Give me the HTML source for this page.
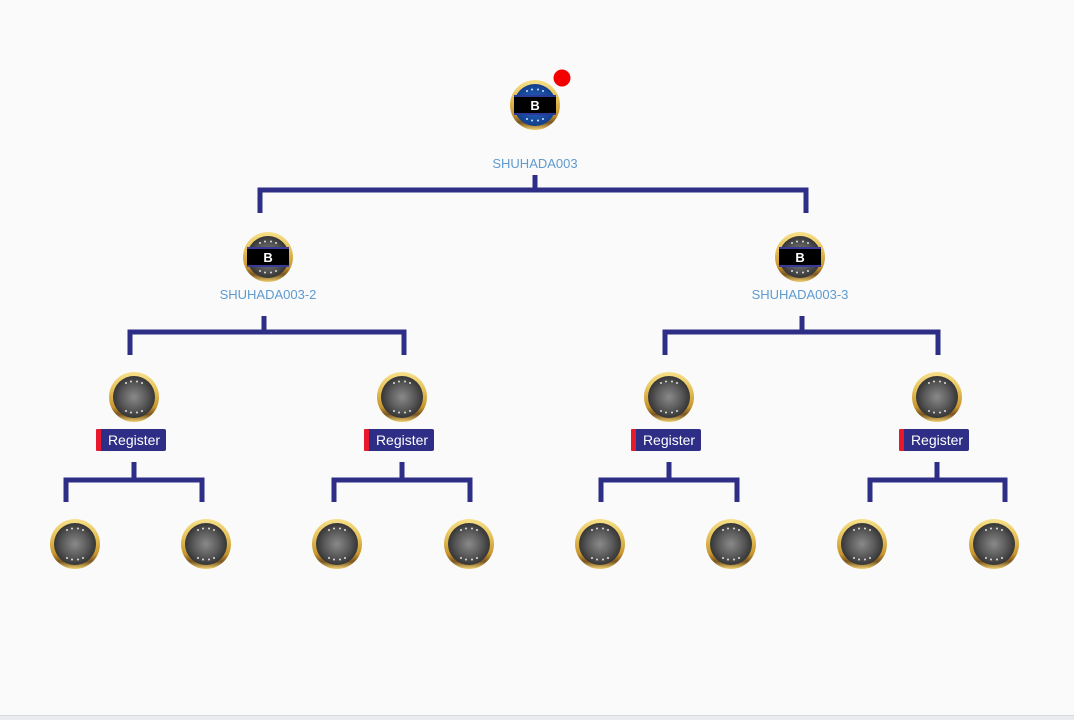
<!DOCTYPE html>
<html><head><meta charset="utf-8"><style>
html,body{margin:0;padding:0;background:#fafafa;}
svg{display:block;}
text{font-family:"Liberation Sans",sans-serif;}
</style></head><body>
<svg width="1074" height="720" viewBox="0 0 1074 720" xmlns="http://www.w3.org/2000/svg">
<defs>
<linearGradient id="gold" x1="0" y1="0" x2="0" y2="1">
<stop offset="0" stop-color="#f7e08a"/><stop offset="0.35" stop-color="#e6c15a"/><stop offset="0.7" stop-color="#c8952e"/><stop offset="0.85" stop-color="#7a5520"/><stop offset="1" stop-color="#f0d070"/>
</linearGradient>
<radialGradient id="steel" cx="0.5" cy="0.5" r="0.5">
<stop offset="0" stop-color="#8a8a8a"/><stop offset="0.6" stop-color="#5a5a5a"/><stop offset="1" stop-color="#353535"/>
</radialGradient>
<radialGradient id="blue" cx="0.5" cy="0.5" r="0.5">
<stop offset="0" stop-color="#2a6ad0"/><stop offset="1" stop-color="#123f8a"/>
</radialGradient>
<g id="plain">
<circle r="25" fill="url(#gold)"/>
<circle r="21" fill="url(#steel)"/>
<g fill="#ddd">
<circle cx="-8" cy="-14" r="1"/><circle cx="-3" cy="-15.5" r="1"/><circle cx="3" cy="-15.5" r="1"/><circle cx="8" cy="-14" r="1"/>
<circle cx="-8" cy="14" r="1"/><circle cx="-3" cy="15.5" r="1"/><circle cx="3" cy="15.5" r="1"/><circle cx="8" cy="14" r="1"/>
</g>
</g>
<g id="bgray">
<use href="#plain"/>
<rect x="-21" y="-10" width="42" height="20" fill="#3b3b9a"/>
<rect x="-21" y="-8" width="42" height="16" fill="#000"/>
<text x="0" y="5" text-anchor="middle" font-size="13" font-weight="bold" fill="#fff">B</text>
</g>
<g id="bblue">
<circle r="25" fill="url(#gold)"/>
<circle r="21" fill="url(#blue)"/>
<g fill="#cfe0ff">
<circle cx="-8" cy="-14" r="1"/><circle cx="-3" cy="-15.5" r="1"/><circle cx="3" cy="-15.5" r="1"/><circle cx="8" cy="-14" r="1"/>
<circle cx="-8" cy="14" r="1"/><circle cx="-3" cy="15.5" r="1"/><circle cx="3" cy="15.5" r="1"/><circle cx="8" cy="14" r="1"/>
</g>
<rect x="-21" y="-10" width="42" height="20" fill="#2a3a9a"/>
<rect x="-21" y="-8" width="42" height="16" fill="#000"/>
<text x="0" y="5" text-anchor="middle" font-size="13" font-weight="bold" fill="#fff">B</text>
</g>
<g id="reg">
<rect x="-38" y="-11" width="70" height="22" rx="2" fill="#2e2e86"/>
<rect x="-38" y="-11" width="5" height="22" rx="1" fill="#e8192c"/>
<text x="0" y="5" text-anchor="middle" font-size="14" fill="#fff">Register</text>
</g>
</defs>
<rect x="0" y="715" width="1074" height="1" fill="#d8d8dc"/>
<rect x="0" y="716" width="1074" height="4" fill="#e9ebf0"/>

<g fill="none" stroke="#2e2e86" stroke-width="5">
<path d="M535 175V190M260 213V190H806V213"/>
<path d="M264 316V332M130 355V332H404V355"/>
<path d="M802 316V332M665 355V332H938V355"/>
<path d="M134 462V480M66 502V480H202V502"/>
<path d="M402 462V480M334 502V480H470V502"/>
<path d="M669 462V480M601 502V480H737V502"/>
<path d="M937 462V480M870 502V480H1005V502"/>
</g>

<use href="#bblue" x="535" y="105"/>
<circle cx="562" cy="78" r="8.5" fill="#f50000"/>
<text x="535" y="168" text-anchor="middle" font-size="13" fill="#5e9bd0">SHUHADA003</text>

<use href="#bgray" x="268" y="257"/>
<text x="268" y="299" text-anchor="middle" font-size="13" fill="#5e9bd0">SHUHADA003-2</text>
<use href="#bgray" x="800" y="257"/>
<text x="800" y="299" text-anchor="middle" font-size="13" fill="#5e9bd0">SHUHADA003-3</text>

<use href="#plain" x="134" y="397"/><use href="#reg" x="134" y="440"/>
<use href="#plain" x="402" y="397"/><use href="#reg" x="402" y="440"/>
<use href="#plain" x="669" y="397"/><use href="#reg" x="669" y="440"/>
<use href="#plain" x="937" y="397"/><use href="#reg" x="937" y="440"/>

<use href="#plain" x="75" y="544"/><use href="#plain" x="206" y="544"/>
<use href="#plain" x="337" y="544"/><use href="#plain" x="469" y="544"/>
<use href="#plain" x="600" y="544"/><use href="#plain" x="731" y="544"/>
<use href="#plain" x="862" y="544"/><use href="#plain" x="994" y="544"/>
</svg>
</body></html>
